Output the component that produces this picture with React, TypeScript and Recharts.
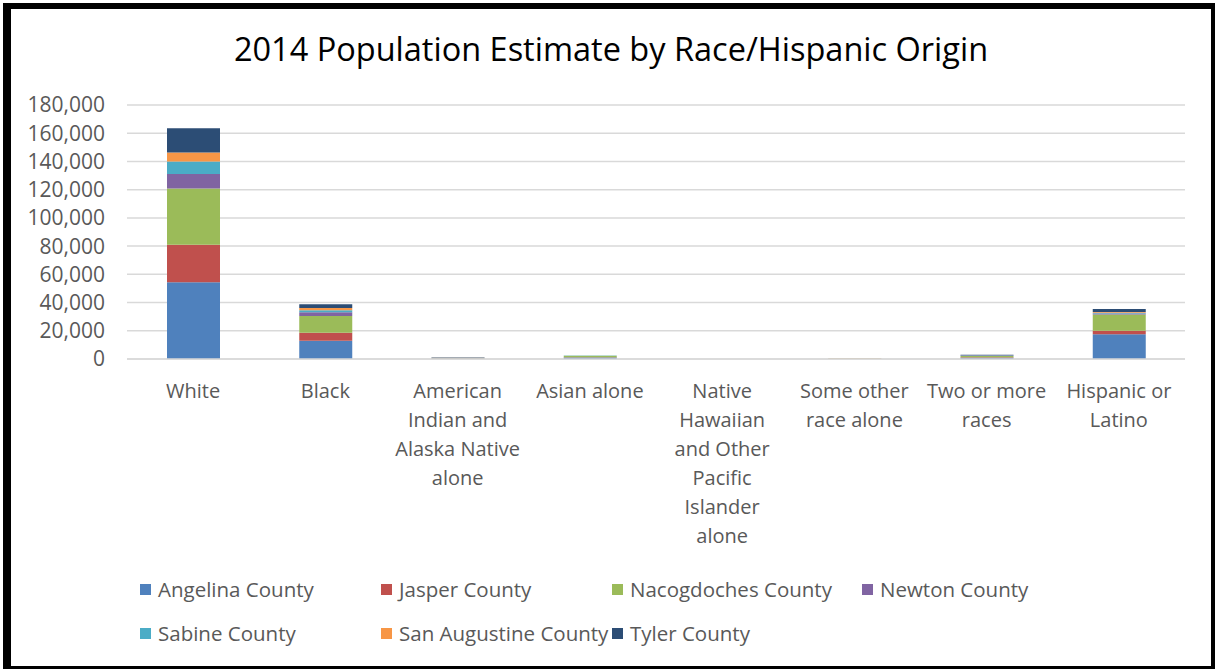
import { BarChart, Bar, XAxis, YAxis, CartesianGrid, Legend } from "recharts";

const CATEGORIES = [
  "White",
  "Black",
  "American Indian and Alaska Native alone",
  "Asian alone",
  "Native Hawaiian and Other Pacific Islander alone",
  "Some other race alone",
  "Two or more races",
  "Hispanic or Latino",
];

// tick labels, wrapped the way the original lays them out
const TICK_LINES = [
  ["White"],
  ["Black"],
  ["American", "Indian and", "Alaska Native", "alone"],
  ["Asian alone"],
  ["Native", "Hawaiian", "and Other", "Pacific", "Islander", "alone"],
  ["Some other", "race alone"],
  ["Two or more", "races"],
  ["Hispanic or", "Latino"],
];

const COUNTIES = [
  "Angelina County",
  "Jasper County",
  "Nacogdoches County",
  "Newton County",
  "Sabine County",
  "San Augustine County",
  "Tyler County",
];

const COLORS = ["#4F81BD", "#C0504D", "#9BBB59", "#8064A2", "#4BACC6", "#F79646", "#2C4D75"];

// one array per county, in CATEGORIES order
const angelina = [54400, 12900, 400, 1000, 20, 150, 900, 17600];
const jasper = [26600, 5700, 200, 200, 10, 50, 400, 2400];
const nacogdoches = [39900, 11800, 300, 1100, 30, 200, 800, 11500];
const newton = [10200, 2800, 100, 50, 5, 20, 300, 700];
const sabine = [8900, 1400, 100, 50, 5, 20, 200, 500];
const sanAugustine = [6300, 1600, 50, 30, 5, 10, 100, 600];
const tyler = [17200, 2600, 150, 100, 5, 30, 300, 2100];

const SERIES = [angelina, jasper, nacogdoches, newton, sabine, sanAugustine, tyler];

const Y_TICKS = [0, 20000, 40000, 60000, 80000, 100000, 120000, 140000, 160000, 180000];

const data = CATEGORIES.map((name, i) => {
  const row: Record<string, any> = { name, idx: i };
  COUNTIES.forEach((c, s) => {
    row[c] = SERIES[s][i];
  });
  return row;
});

const FONT = "'Open Sans', 'Noto Sans', sans-serif";
const TEXT = "#595959";

function CategoryTick(props: any) {
  const { x, y, index } = props;
  const lines = TICK_LINES[index] || [];
  return (
    <text x={x} y={y + 31} textAnchor="middle" fill={TEXT} fontSize={20} fontFamily={FONT}>
      {lines.map((l, i) => (
        <tspan key={i} x={x} dy={i === 0 ? 0 : 29}>
          {l}
        </tspan>
      ))}
    </text>
  );
}

const LEGEND_COLS = [140, 381, 612, 862];

function LegendContent() {
  return (
    <div style={{ position: "relative", width: 1215, height: 90, fontFamily: FONT }}>
      {COUNTIES.map((c, i) => (
        <div
          key={c}
          style={{
            position: "absolute",
            left: LEGEND_COLS[i % 4],
            top: Math.floor(i / 4) * 44,
            display: "flex",
            alignItems: "center",
            whiteSpace: "nowrap",
            fontSize: 20.5,
            color: TEXT,
            lineHeight: "28px",
          }}
        >
          <span style={{ width: 11, height: 11, background: COLORS[i], marginRight: 7, display: "inline-block" }} />
          {c}
        </div>
      ))}
    </div>
  );
}

export default function App() {
  return (
    <div style={{ position: "fixed", left: 0, top: 0, width: 1215, height: 669, background: "#fff" }}>
      <div
        style={{
          position: "absolute",
          left: 3,
          top: 3,
          right: 0,
          bottom: 0,
          borderLeft: "8px solid #000",
          borderTop: "6px solid #000",
          borderRight: "4px solid #000",
          borderBottom: "3px solid #000",
        }}
      />
      <div
        style={{
          position: "absolute",
          left: 0,
          top: 26,
          width: 1222,
          textAlign: "center",
          fontFamily: FONT,
          fontSize: 32.5,
          color: "#000",
        }}
      >
        2014 Population Estimate by Race/Hispanic Origin
      </div>
      <div style={{ position: "absolute", left: 0, top: 0 }}>
        <BarChart
          width={1215}
          height={669}
          data={data}
          margin={{ top: 105, right: 30, left: 27, bottom: 0 }}
          barSize={53}
        >
          <CartesianGrid vertical={false} stroke="#d9d9d9" strokeWidth={1.5} />
          <XAxis
            dataKey="name"
            interval={0}
            height={310}
            axisLine={{ stroke: "#d9d9d9", strokeWidth: 1.5 }}
            tickLine={false}
            tick={<CategoryTick />}
          />
          <YAxis
            width={100}
            domain={[0, 180000]}
            ticks={Y_TICKS}
            interval={0}
            axisLine={false}
            tickLine={false}
            tickMargin={16}
            tick={{ fill: TEXT, fontSize: 21, fontFamily: FONT }}
            tickFormatter={(v: number) => v.toLocaleString("en-US")}
          />
          <Legend
            layout="horizontal"
            verticalAlign="middle"
            align="center"
            wrapperStyle={{ left: 0, top: 575, width: 1215 }}
            content={<LegendContent />}
          />
          {COUNTIES.map((c, i) => (
            <Bar key={c} dataKey={c} stackId="a" fill={COLORS[i]} isAnimationActive={false} />
          ))}
        </BarChart>
      </div>
    </div>
  );
}
